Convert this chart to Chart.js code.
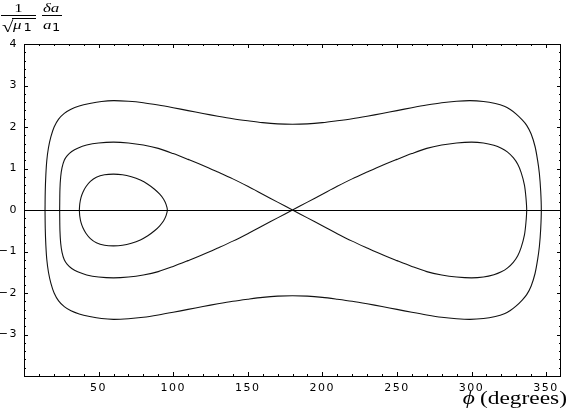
<!DOCTYPE html>
<html>
<head>
<meta charset="utf-8">
<script src="https://cdn.jsdelivr.net/npm/chart.js@4"></script>
<style>
  html, body { margin: 0; padding: 0; background: #fff; }
</style>
</head>
<body>
<canvas id="phaseChart" width="568" height="413"></canvas>
<script>
// axis tick labels
const xTickLabels = [50, 100, 150, 200, 250, 300, 350];
const yTickLabels = [-3, -2, -1, 0, 1, 2, 3, 4];

// outer circulating curve, [phi (deg), scaled delta a]
const outerTop = [
  [14.1, 0], [14.25, 0.45], [14.65, 0.85], [15.3, 1.2], [16.4, 1.5], [18, 1.76], [20.2, 2.0],
  [23.2, 2.19], [27, 2.33], [31.5, 2.43], [37, 2.505], [44, 2.565], [52, 2.615], [60, 2.635],
  [70, 2.62], [80, 2.585], [90, 2.53], [100, 2.465], [110, 2.395], [120, 2.325], [130, 2.26],
  [140, 2.2], [150, 2.15], [160, 2.105], [170, 2.075], [180, 2.065], [190, 2.075], [200, 2.105],
  [210, 2.15], [220, 2.2], [230, 2.26], [240, 2.325], [250, 2.395], [260, 2.465], [270, 2.53],
  [280, 2.585], [290, 2.62], [299, 2.635], [308, 2.615], [316, 2.565], [322, 2.5], [326, 2.42],
  [330, 2.31], [334, 2.17], [337, 2.04], [340, 1.83], [342.6, 1.53], [344.3, 1.2],
  [345.5, 0.88], [346.4, 0.45], [346.8, 0]
];
const outerBottom = [
  [346.4, -0.45], [345.5, -0.88], [344.3, -1.2], [342.6, -1.53], [340, -1.83], [337, -2.04],
  [334, -2.17], [330, -2.31], [326, -2.42], [322, -2.5], [316, -2.565], [308, -2.615],
  [299, -2.635], [290, -2.62], [280, -2.585], [270, -2.53], [260, -2.465], [250, -2.395],
  [240, -2.325], [230, -2.26], [220, -2.2], [210, -2.15], [200, -2.105], [190, -2.075],
  [180, -2.065], [170, -2.075], [160, -2.105], [150, -2.15], [140, -2.2], [130, -2.26],
  [120, -2.325], [110, -2.395], [100, -2.465], [90, -2.53], [80, -2.585], [70, -2.62],
  [60, -2.635], [52, -2.615], [44, -2.565], [37, -2.505], [31.5, -2.43], [27, -2.33],
  [23.2, -2.19], [20.2, -2.0], [18, -1.76], [16.4, -1.5], [15.3, -1.2], [14.65, -0.85],
  [14.25, -0.45], [14.1, 0]
];

// separatrix (figure eight through phi = 180)
const sepLeftTop = [
  [23.9, 0], [24.1, 0.5], [24.6, 0.8], [25.5, 1.02], [27, 1.2], [29, 1.31], [32, 1.41],
  [36, 1.49], [42, 1.565], [50, 1.615], [60, 1.635], [70, 1.615], [80, 1.565], [90, 1.485],
  [100, 1.36], [110, 1.22], [120, 1.075], [130, 0.915], [140, 0.75], [150, 0.57], [160, 0.38],
  [170, 0.19], [180, 0]
];
const sepRightBottom = [
  [190, -0.19], [200, -0.38], [210, -0.57], [220, -0.75], [230, -0.915], [240, -1.075],
  [250, -1.22], [260, -1.36], [270, -1.485], [280, -1.565], [290, -1.615], [300, -1.635],
  [308, -1.615], [315, -1.56], [320, -1.49], [324, -1.4], [328, -1.26], [331, -1.1],
  [333.3, -0.9], [335.5, -0.6], [336.5, -0.3], [337, 0]
];
const sepRightTop = [
  [336.5, 0.3], [335.5, 0.6], [333.3, 0.9], [331, 1.1], [328, 1.26], [324, 1.4], [320, 1.49],
  [315, 1.56], [308, 1.615], [300, 1.635], [290, 1.615], [280, 1.565], [270, 1.485],
  [260, 1.36], [250, 1.22], [240, 1.075], [230, 0.915], [220, 0.75], [210, 0.57], [200, 0.38],
  [190, 0.19], [180, 0]
];
const sepLeftBottom = [
  [170, -0.19], [160, -0.38], [150, -0.57], [140, -0.75], [130, -0.915], [120, -1.075],
  [110, -1.22], [100, -1.36], [90, -1.485], [80, -1.565], [70, -1.615], [60, -1.635],
  [50, -1.615], [42, -1.565], [36, -1.49], [32, -1.41], [29, -1.31], [27, -1.2], [25.5, -1.02],
  [24.6, -0.8], [24.1, -0.5], [23.9, 0]
];

// inner libration loop around phi = 60
const innerTop = [
  [37.1, 0], [37.4, 0.15], [38.2, 0.3], [39.5, 0.43], [41.5, 0.56], [44.5, 0.69], [48.5, 0.79],
  [54, 0.85], [60, 0.865], [66, 0.85], [72, 0.8], [78, 0.72], [83, 0.62], [87.5, 0.5],
  [91, 0.38], [93.6, 0.26], [95.3, 0.13], [96.1, 0]
];
const innerBottom = [
  [95.3, -0.13], [93.6, -0.26], [91, -0.38], [87.5, -0.5], [83, -0.62], [78, -0.72], [72, -0.8],
  [66, -0.85], [60, -0.865], [54, -0.85], [48.5, -0.79], [44.5, -0.69], [41.5, -0.56],
  [39.5, -0.43], [38.2, -0.3], [37.4, -0.15], [37.1, 0]
];

const toPts = arr => arr.map(p => ({ x: p[0], y: p[1] }));

function curve(pts) {
  return {
    data: toPts(pts),
    showLine: true,
    borderColor: '#111',
    borderWidth: 1.1,
    pointRadius: 0,
    tension: 0.3,
    fill: false
  };
}

// frame, inward ticks and the phi axis line, Mathematica style
const frameTicks = {
  id: 'frameTicks',
  beforeDraw(chart) {
    chart.ctx.letterSpacing = '1.5px';
  },
  afterDatasetsDraw(chart) {
    const { ctx, chartArea: a, scales: { x, y } } = chart;
    ctx.save();
    ctx.letterSpacing = '0px';
    ctx.strokeStyle = '#000';
    ctx.lineWidth = 1;

    const y0 = Math.round(y.getPixelForValue(0)) + 0.5;
    ctx.beginPath();
    ctx.moveTo(a.left, y0);
    ctx.lineTo(a.right, y0);
    ctx.stroke();

    ctx.beginPath();
    for (let v = 10; v < 360; v += 10) {
      const px = Math.round(x.getPixelForValue(v)) + 0.5;
      const len = v % 50 === 0 ? 4 : 2;
      ctx.moveTo(px, a.bottom); ctx.lineTo(px, a.bottom - len);
      ctx.moveTo(px, a.top); ctx.lineTo(px, a.top + len);
    }
    for (let i = -19; i < 20; i++) {
      const v = i / 5;
      const py = Math.round(y.getPixelForValue(v)) + 0.5;
      const len = i % 5 === 0 ? 4 : 2;
      ctx.moveTo(a.left, py); ctx.lineTo(a.left + len, py);
      ctx.moveTo(a.right, py); ctx.lineTo(a.right - len, py);
    }
    ctx.stroke();
    ctx.strokeRect(a.left + 0.5, a.top + 0.5, a.right - a.left - 1, a.bottom - a.top);
    ctx.restore();
  },
  afterDraw(chart) {
    const ctx = chart.ctx;
    const s = 1.3;
    ctx.save();
    ctx.letterSpacing = '0px';
    ctx.fillStyle = '#000';
    ctx.strokeStyle = '#000';
    ctx.lineWidth = 1;

    // y axis label: (1 / sqrt(mu1)) (delta a / a1)
    ctx.beginPath();
    ctx.moveTo(1, 15.5); ctx.lineTo(36, 15.5);
    ctx.moveTo(42, 15.5); ctx.lineTo(62, 15.5);
    ctx.moveTo(12, 18.5); ctx.lineTo(36, 18.5);
    ctx.stroke();

    ctx.scale(s, 1);
    ctx.textBaseline = 'alphabetic';
    ctx.textAlign = 'center';
    ctx.font = '13px "Liberation Serif"';
    ctx.fillText('1', 18.5 / s, 12);
    ctx.textAlign = 'left';
    ctx.font = '16px "Liberation Serif"';
    ctx.fillText('√', 2 / s, 32);
    ctx.font = 'italic 13px "Liberation Serif"';
    ctx.fillText('μ', 13 / s, 29);
    ctx.fillText('δa', 43 / s, 12);
    ctx.fillText('a', 43 / s, 29);
    ctx.font = '10px "DejaVu Sans"';
    ctx.fillText('1', 23.5 / s, 31);
    ctx.fillText('1', 52 / s, 31);

    // x axis label
    ctx.textAlign = 'right';
    ctx.font = '18px "Liberation Serif"';
    const right = 567 / s;
    ctx.fillText('(degrees)', right, 404);
    const w = ctx.measureText('(degrees)').width;
    ctx.font = 'italic 18px "Liberation Serif", "DejaVu Serif"';
    ctx.fillText('ϕ', right - w - 4, 404);
    ctx.restore();
  }
};

const tickFont = { family: 'DejaVu Sans', size: 11 };

new Chart(document.getElementById('phaseChart').getContext('2d'), {
  type: 'scatter',
  data: {
    datasets: [
      curve(outerTop.concat(outerBottom)),
      curve(sepLeftTop.concat(sepRightBottom, sepRightTop, sepLeftBottom)),
      curve(innerTop.concat(innerBottom))
    ]
  },
  options: {
    responsive: false,
    animation: false,
    layout: { padding: { left: 0, top: 44, right: 7, bottom: 0 } },
    plugins: { legend: { display: false }, tooltip: { enabled: false } },
    scales: {
      x: {
        type: 'linear',
        min: 0,
        max: 360,
        afterBuildTicks: s => { s.ticks = xTickLabels.map(v => ({ value: v })); },
        afterFit: s => { s.height = 37; },
        grid: { display: false, drawTicks: false },
        border: { display: false },
        ticks: { color: '#000', font: tickFont, padding: 6, maxRotation: 0, autoSkip: false }
      },
      y: {
        type: 'linear',
        min: -4,
        max: 4,
        afterBuildTicks: s => { s.ticks = yTickLabels.map(v => ({ value: v })); },
        afterFit: s => { s.width = 24; },
        grid: { display: false, drawTicks: false },
        border: { display: false },
        ticks: {
          color: '#000',
          font: tickFont,
          padding: 6,
          autoSkip: false,
          callback: v => (v < 0 ? '\u2212' + Math.abs(v) : String(v))
        }
      }
    }
  },
  plugins: [frameTicks]
});
</script>
</body>
</html>
